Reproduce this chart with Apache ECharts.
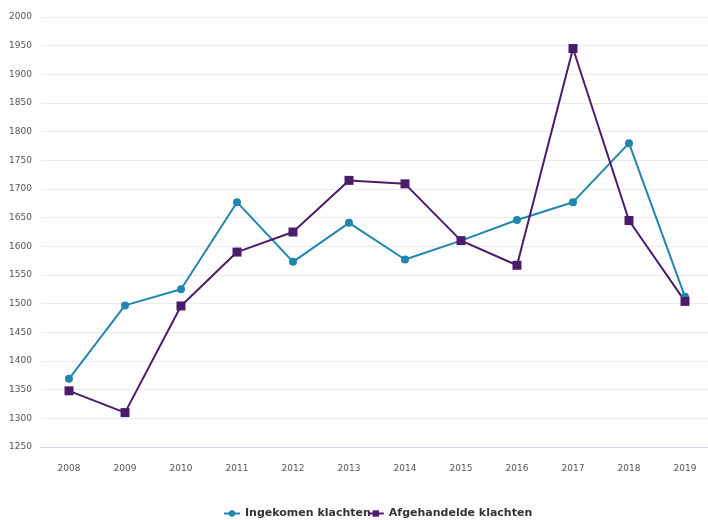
<!DOCTYPE html>
<html>
<head>
<meta charset="utf-8">
<script src="https://cdn.jsdelivr.net/npm/echarts@6/dist/echarts.min.js"></script>
<style>
html,body{margin:0;padding:0;background:#fff;}
#c{width:708px;height:520px;}
</style>
</head>
<body>
<div id="c"></div>
<script>
const years = ['2008','2009','2010','2011','2012','2013','2014','2015','2016','2017','2018','2019'];
const ingekomen = [1369, 1497, 1525, 1677, 1573, 1641, 1577, 1610, 1646, 1677, 1780, 1512];
const afgehandeld = [1348, 1310, 1496, 1590, 1625, 1715, 1709, 1610, 1567, 1945, 1645, 1504];
const seriesNames = ['Ingekomen klachten', 'Afgehandelde klachten'];
const yMin = 1250, yMax = 2000, yStep = 50;

const chart = echarts.init(document.getElementById('c'), null, {renderer:'canvas'});
chart.setOption({
  animation: false,
  backgroundColor: '#ffffff',
  grid: {left: 41, width: 672, top: 17, height: 430, containLabel: false, outerBoundsMode: 'none'},
  legend: {
    data: seriesNames,
    left: 218,
    top: 503,
    itemGap: -4,
    itemWidth: 16,
    itemHeight: 8,
    textStyle: {fontFamily: 'DejaVu Sans', fontSize: 11, fontWeight: 'bold', color: '#333'}
  },
  xAxis: {
    type: 'category',
    data: years,
    boundaryGap: true,
    axisLine: {lineStyle: {color: '#ccd6eb', width: 1}},
    axisTick: {alignWithLabel: true, length: 9, lineStyle: {color: '#ccd6eb'}},
    axisLabel: {margin: 17, fontFamily: 'DejaVu Sans', fontSize: 9, color: '#555'},
    splitLine: {show: false}
  },
  yAxis: {
    type: 'value',
    min: yMin, max: yMax, interval: yStep,
    axisLine: {show: false},
    axisTick: {show: false},
    axisLabel: {margin: 9, fontFamily: 'DejaVu Sans', fontSize: 9, color: '#555', formatter: v => String(v)},
    splitLine: {lineStyle: {color: '#ececec', width: 1}}
  },
  series: [
    {
      name: seriesNames[0],
      type: 'line',
      data: ingekomen,
      symbol: 'circle',
      symbolSize: 8,
      lineStyle: {width: 2, color: '#2186ae'},
      itemStyle: {color: '#2186ae'}
    },
    {
      name: seriesNames[1],
      type: 'line',
      data: afgehandeld,
      symbol: 'rect',
      symbolSize: 9,
      lineStyle: {width: 2, color: '#4b1c6b'},
      itemStyle: {color: '#4b1c6b'}
    }
  ]
});
</script>
</body>
</html>
